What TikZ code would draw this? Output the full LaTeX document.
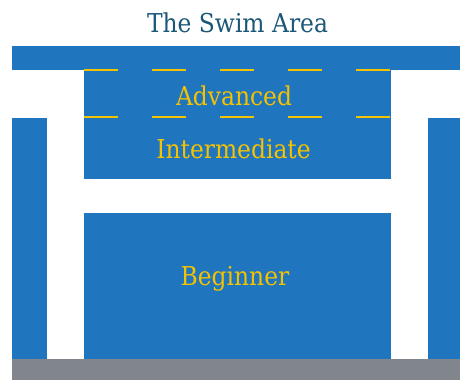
\documentclass[tikz,border=0pt]{standalone}
\usepackage{fontspec}
\setmainfont{DejaVu Serif Condensed}

\definecolor{poolblue}{RGB}{31,117,190}
\definecolor{laneyellow}{RGB}{245,194,0}
\definecolor{deckgray}{RGB}{128,134,140}
\definecolor{titleblue}{RGB}{27,88,120}

\begin{document}
\begin{tikzpicture}[
    x=1pt, y=-1pt,
    wall/.style={fill=poolblue, draw=none},
    zone/.style={text=laneyellow, font=\fontsize{26}{30}\selectfont, inner sep=0pt, anchor=base},
    lane/.style={draw=laneyellow, line width=2.5pt, dash pattern=on 34pt off 34pt}
]
\useasboundingbox (0,0) rectangle (460,380);

% Title
\node[text=titleblue, font=\fontsize{26}{30}\selectfont, inner sep=0pt, anchor=base] (title) at (237.5,32) {The Swim Area};

% Frame: top bar and side pillars
\fill[wall] (12,46) rectangle (460,70);
\fill[wall] (12,118) rectangle (47,359);
\fill[wall] (428,118) rectangle (460,359);

% Deep and shallow pools
\fill[wall] (84,70) rectangle (391,179);
\fill[wall] (84,213) rectangle (391,359);

% Floor
\fill[deckgray] (12,359) rectangle (460,380);

% Lane ropes
\coordinate (ropeAw) at (84,70);
\coordinate (ropeAe) at (391,70);
\coordinate (ropeBw) at (84,117);
\coordinate (ropeBe) at (391,117);
\draw[lane] (ropeAw) -- (ropeAe);
\draw[lane] (ropeBw) -- (ropeBe);

% Zone labels
\node[zone] (advanced) at (234,105) {Advanced};
\node[zone] (intermediate) at (233.5,158) {Intermediate};
\node[zone] (beginner) at (235,285) {Beginner};

\end{tikzpicture}
\end{document}
